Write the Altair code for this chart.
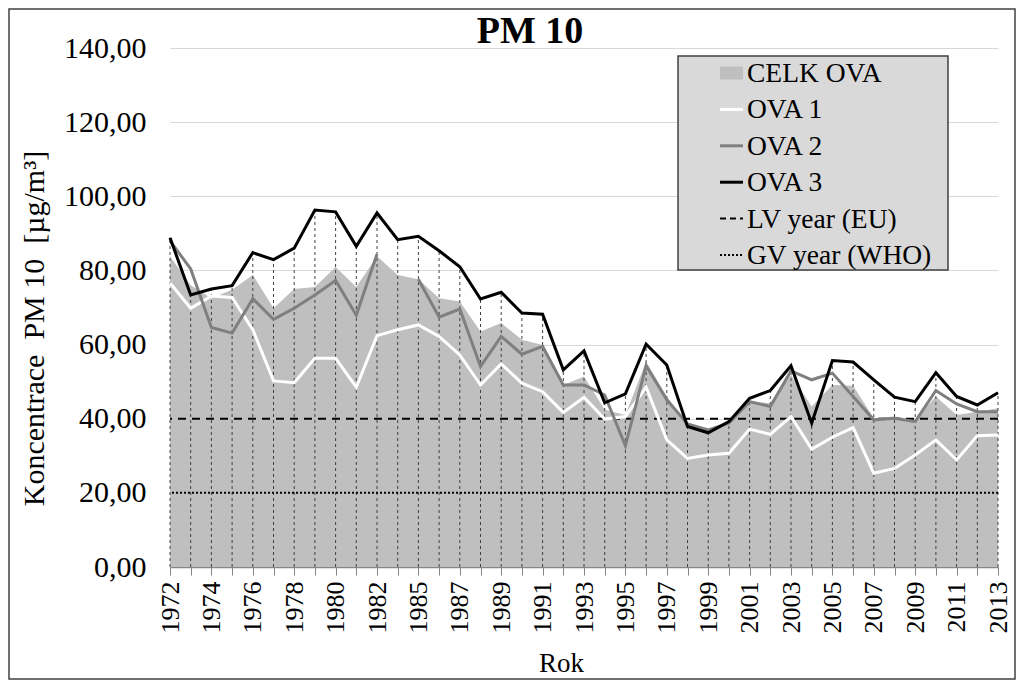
import altair as alt
import pandas as pd

years = ['1972','1973','1974','1975','1976','1977','1978','1979','1980','1981','1982','1983',
         '1985','1986','1987','1988','1989','1990','1991','1992','1993','1994','1995','1996',
         '1997','1998','1999','2000','2001','2002','2003','2004','2005','2006','2007','2008',
         '2009','2010','2011','2012','2013']

celk = [83.8,76.0,72.5,74.8,78.8,69.8,75.0,75.5,80.9,75.5,83.8,78.8,
        77.6,72.5,71.6,63.5,65.8,61.3,59.9,49.1,51.4,42.4,41.0,55.4,
        46.0,38.3,37.0,38.3,44.6,44.2,51.8,43.3,49.1,48.9,40.1,40.6,
        39.7,46.0,41.0,41.9,42.8]
ova1 = [76.6,69.8,73.1,72.7,64.0,50.2,49.7,56.3,56.3,48.5,62.4,64.0,
        65.3,62.2,57.2,49.1,54.8,49.6,47.3,41.7,45.8,39.9,40.6,48.5,
        34.3,29.3,30.2,30.7,37.2,35.8,40.6,31.8,35.0,37.6,25.3,26.6,
        30.2,34.3,28.9,35.4,35.6]
ova2 = [88.0,80.4,64.6,63.1,72.4,66.8,69.8,73.4,77.3,67.9,84.4,None,
        77.6,67.4,69.6,54.1,62.2,57.4,59.5,49.1,49.1,46.4,32.7,54.3,
        45.1,38.6,37.0,38.8,44.6,43.3,52.9,50.5,52.3,46.0,39.7,40.1,
        39.2,47.6,44.0,41.9,41.9]
ova3 = [88.8,73.4,75.0,75.9,84.8,82.9,86.0,96.3,95.8,86.5,95.5,88.3,
        89.2,85.3,81.0,72.3,74.1,68.5,68.2,53.2,58.3,44.3,46.7,60.1,
        54.5,37.9,36.2,39.2,45.5,47.6,54.3,38.8,55.7,55.3,50.5,45.8,
        44.6,52.4,46.0,43.7,47.0]
lv_year = 40.0
gv_year = 20.0

chart_title = 'PM 10'
x_title = 'Rok'
y_title = 'Koncentrace\u00a0\u00a0PM 10\u00a0\u00a0[µg/m³]'
series_names = ['CELK OVA', 'OVA 1', 'OVA 2', 'OVA 3', 'LV year (EU)', 'GV year (WHO)']
series_colors = ['#bfbfbf', '#ffffff', '#7f7f7f', '#000000', '#000000', '#000000']
y_ticks = [0, 20, 40, 60, 80, 100, 120, 140]
label_years = years[::2]

FONT = 'Liberation Serif'
W, H = 828, 519

df = pd.DataFrame({'Rok': years, 'CELK OVA': celk, 'OVA 1': ova1, 'OVA 2': ova2, 'OVA 3': ova3})
label_list = "[" + ",".join("'" + y + "'" for y in label_years) + "]"

x_enc = alt.X('Rok:N', sort=years,
              scale=alt.Scale(type='point', padding=0, domain=years),
              axis=alt.Axis(title=x_title, labelAngle=-90, labelAlign='right', labelBaseline='middle',
                            labelFont=FONT, labelFontSize=26, labelColor='#000000', labelPadding=6,
                            labelOverlap=False,
                            labelExpr=f"indexof({label_list}, datum.value) >= 0 ? datum.value : ''",
                            titleFont=FONT, titleFontSize=27, titleFontWeight='normal', titleColor='#000000',
                            titlePadding=17, titleX=391, domainColor='#868686', domainWidth=1.5,
                            tickColor='#868686', tickSize=8, grid=False))
xs = alt.X('Rok:N', sort=years)
y_scale = alt.Scale(domain=[0, 140], nice=False)
y_axis = alt.Axis(title=y_title, values=y_ticks,
                  labelExpr="replace(format(datum.value, '.2f'), '.', ',')",
                  labelFont=FONT, labelFontSize=30, labelColor='#000000', labelPadding=24,
                  ticks=False, tickSize=0, domain=False, grid=True, gridColor='#d9d9d9', gridWidth=1,
                  titleFont=FONT, titleFontSize=30, titleFontWeight='normal', titleColor='#000000',
                  titlePadding=14, titleY=280)

base = alt.Chart(df)
area = base.mark_area(color=series_colors[0], opacity=1).encode(
    x=x_enc, y=alt.Y('CELK OVA:Q', scale=y_scale, axis=y_axis))

drops = base.transform_calculate(zero='0').mark_rule(
    color='#404040', strokeDash=[3, 3], strokeWidth=1).encode(
    x=xs, y=alt.Y('zero:Q', scale=y_scale), y2=alt.Y2('OVA 3:Q'))

lim_df = pd.DataFrame({'v': [lv_year], 'w': [gv_year]})
lv = alt.Chart(lim_df).mark_rule(color='#000000', strokeWidth=2, strokeDash=[8, 6]).encode(
    y=alt.Y('v:Q', scale=y_scale))
gv = alt.Chart(lim_df).mark_rule(color='#000000', strokeWidth=2, strokeDash=[2, 2]).encode(
    y=alt.Y('w:Q', scale=y_scale))

l1 = base.mark_line(color=series_colors[1], strokeWidth=3).encode(
    x=xs, y=alt.Y('OVA 1:Q', scale=y_scale))
l2a = base.transform_filter(alt.FieldOneOfPredicate(field='Rok', oneOf=years[:11])).mark_line(
    color=series_colors[2], strokeWidth=3).encode(x=xs, y=alt.Y('OVA 2:Q', scale=y_scale))
l2b = base.transform_filter(alt.FieldOneOfPredicate(field='Rok', oneOf=years[12:])).mark_line(
    color=series_colors[2], strokeWidth=3).encode(x=xs, y=alt.Y('OVA 2:Q', scale=y_scale))
l3 = base.mark_line(color=series_colors[3], strokeWidth=3).encode(
    x=xs, y=alt.Y('OVA 3:Q', scale=y_scale))

one = pd.DataFrame({'k': [0]})

# outer frame of the whole chart
frame = alt.Chart(one).mark_rect(fill=None, stroke='#404040', strokeWidth=1.5).encode(
    x=alt.value(-161), x2=alt.value(845), y=alt.value(-39), y2=alt.value(631))

# chart title as a text mark
title = alt.Chart(pd.DataFrame({'t': [chart_title]})).mark_text(
    align='center', baseline='alphabetic', font=FONT, fontSize=38, fontWeight='bold',
    color='#000000').encode(x=alt.value(360), y=alt.value(-5), text='t:N')

# legend (drawn by hand inside the plot area)
LX0, LX1, LY0, LY1 = 508, 778, 8, 222
ROW0, ROWSTEP = 25, 36.4
SX0, SX1, TX = 550, 573, 577
leg_layers = [alt.Chart(one).mark_rect(fill='#d9d9d9', stroke='#404040', strokeWidth=1.5).encode(
    x=alt.value(LX0), x2=alt.value(LX1), y=alt.value(LY0), y2=alt.value(LY1))]
sym_dash = [None, None, None, None, [6, 4], [2, 2]]
for i, name in enumerate(series_names):
    yc = ROW0 + ROWSTEP * i
    if i == 0:
        leg_layers.append(alt.Chart(one).mark_rect(fill=series_colors[0]).encode(
            x=alt.value(SX0), x2=alt.value(SX1), y=alt.value(yc - 6.5), y2=alt.value(yc + 6.5)))
    else:
        kw = dict(color=series_colors[i], strokeWidth=3 if i < 4 else 2)
        if sym_dash[i]:
            kw['strokeDash'] = sym_dash[i]
        leg_layers.append(alt.Chart(one).mark_rule(**kw).encode(
            x=alt.value(SX0), x2=alt.value(SX1), y=alt.value(yc)))
    leg_layers.append(alt.Chart(pd.DataFrame({'t': [name]})).mark_text(
        align='left', baseline='middle', font=FONT, fontSize=27.5, color='#000000', dy=1).encode(
        x=alt.value(TX), y=alt.value(yc), text='t:N'))

chart = alt.layer(area, drops, lv, gv, l1, l2a, l2b, l3, frame, title, *leg_layers).properties(
    width=W, height=H,
    padding=0,
    background='#ffffff'
).configure_view(stroke=None)

chart.save('out.html', embed_options={'renderer': 'svg', 'actions': False})
